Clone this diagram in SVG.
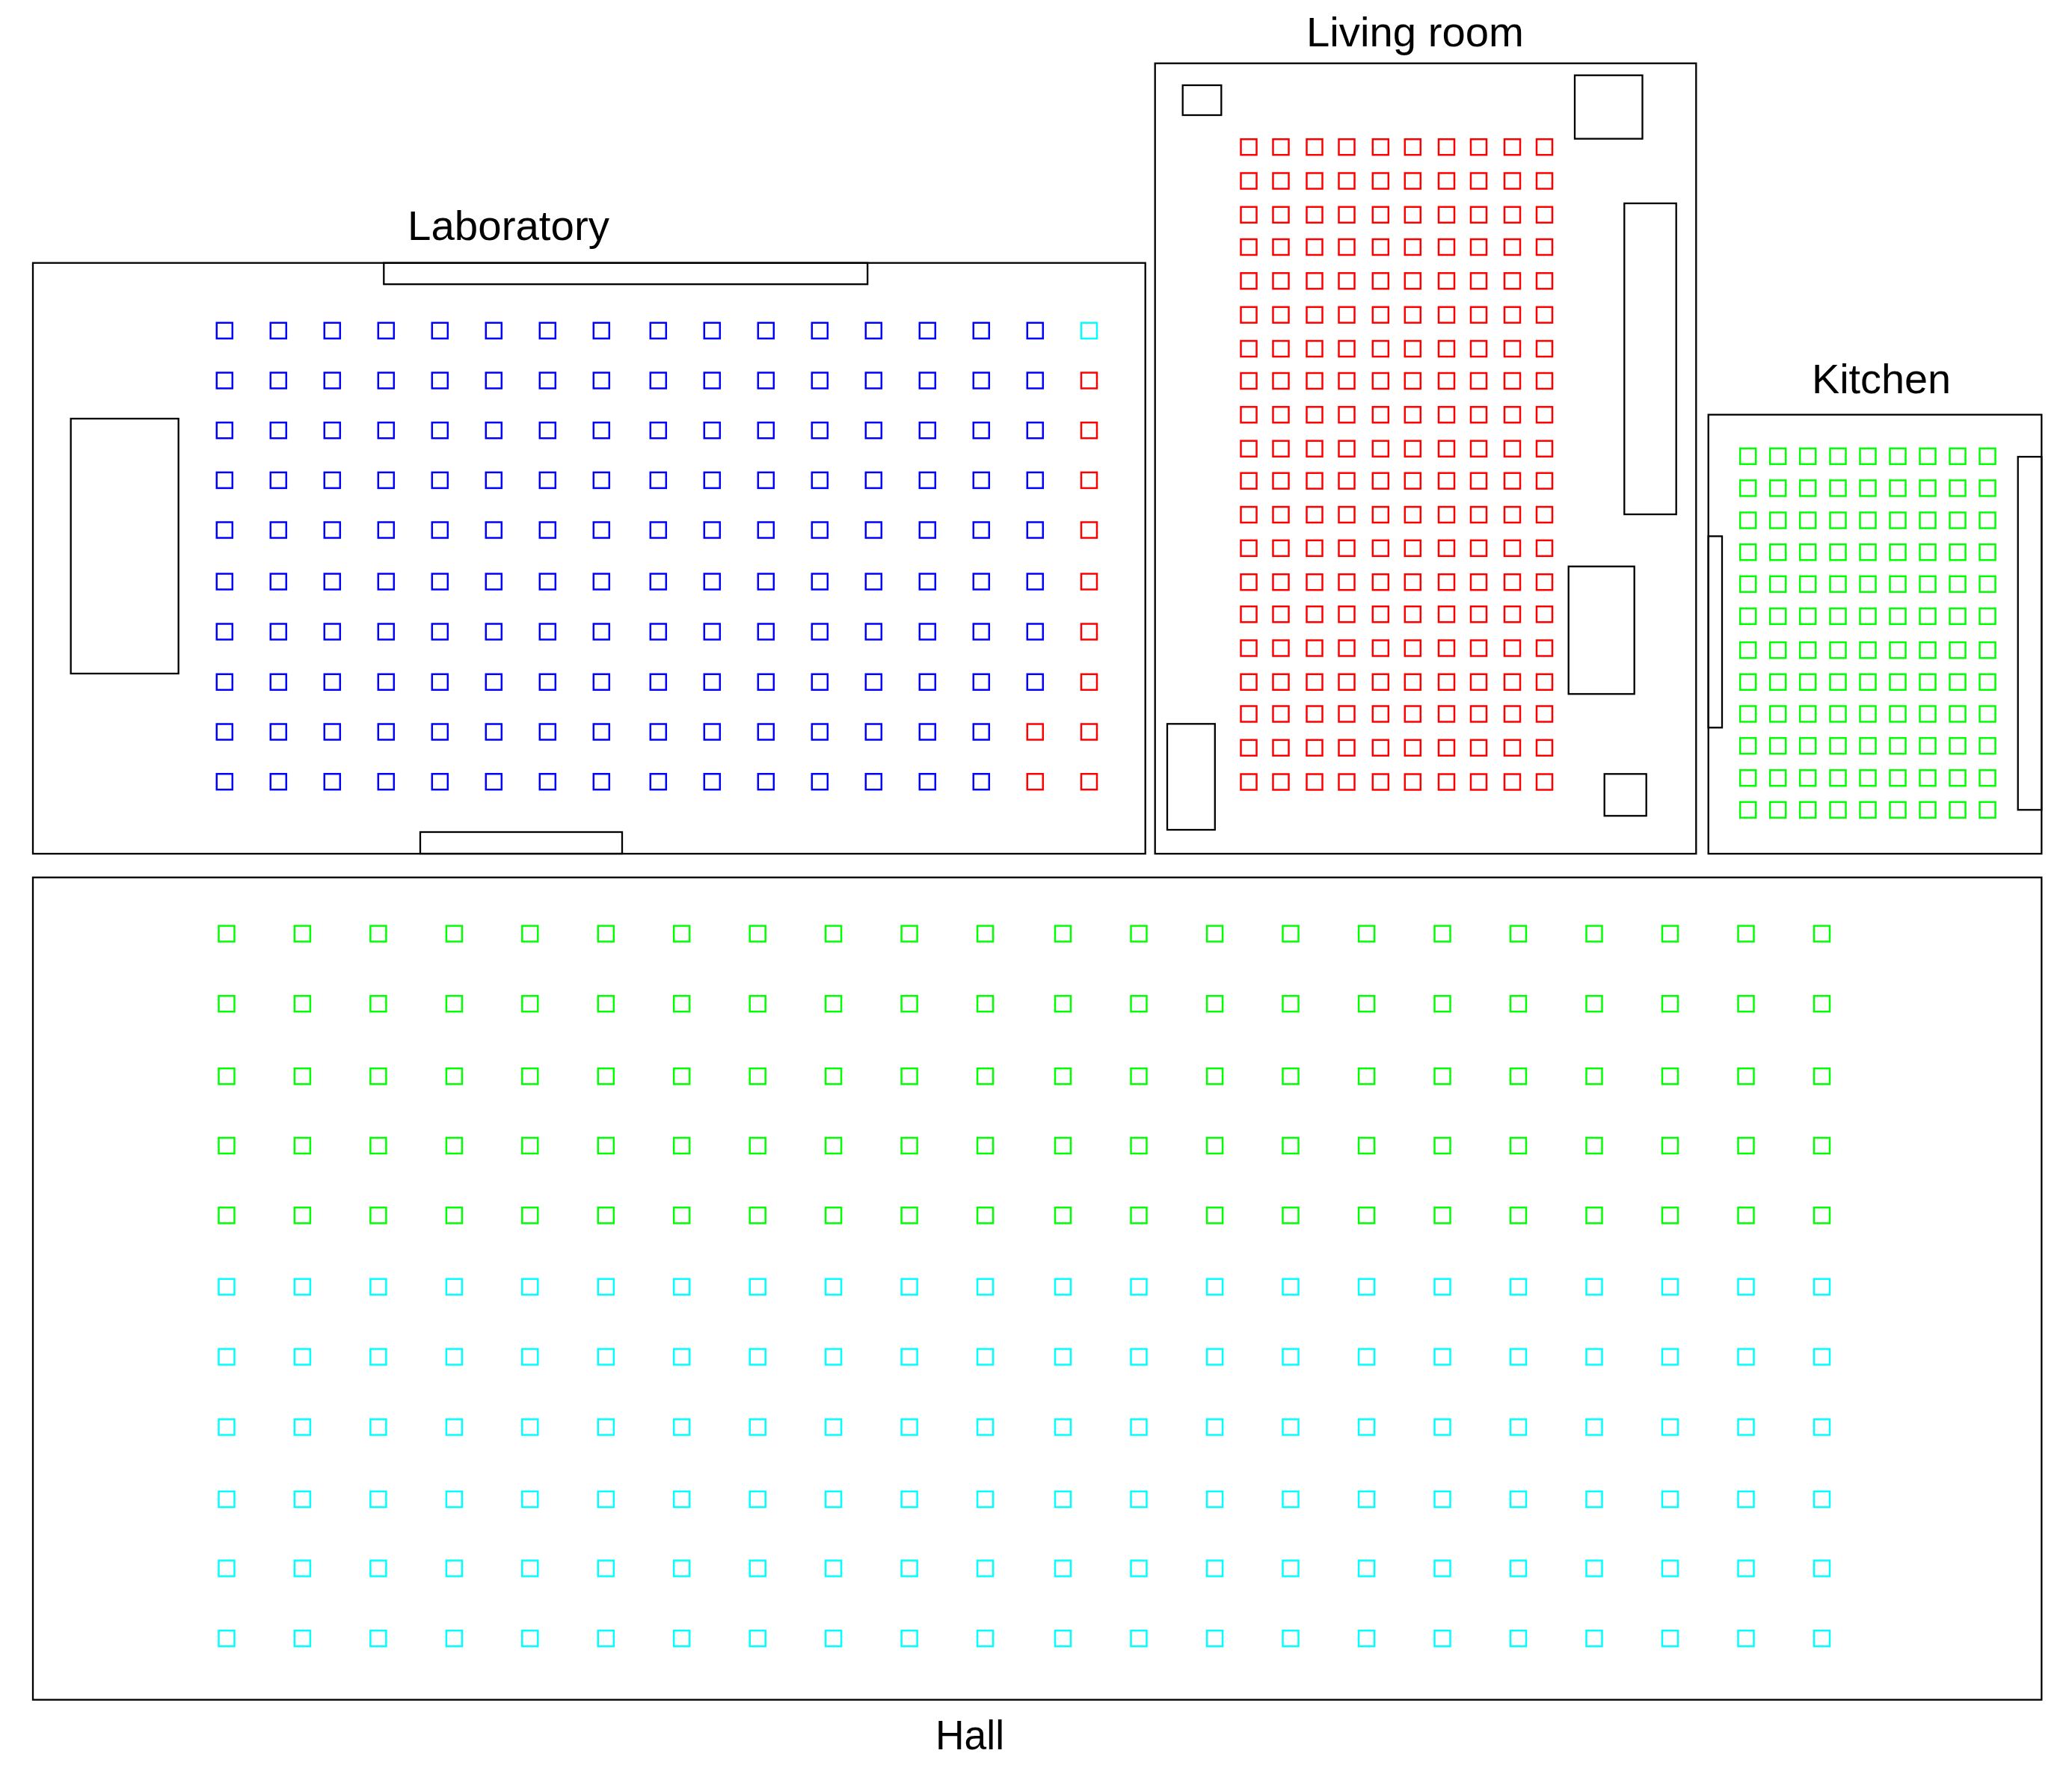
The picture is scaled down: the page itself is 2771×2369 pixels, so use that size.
<svg xmlns="http://www.w3.org/2000/svg" xmlns:xlink="http://www.w3.org/1999/xlink" width="2771" height="2369" viewBox="0 0 2771 2369">
<style>
.w{fill:none;stroke:#000;stroke-width:2.3}
.s{fill:none;stroke-width:2.5}
.b{stroke:#0000ff}.r{stroke:#ff0000}.g{stroke:#00ff00}.c{stroke:#00ffff}
text{font-family:"Liberation Sans",Arial,sans-serif;font-size:56px;fill:#000}
</style>
<defs>
<rect id="s" class="s" x="-10.5" y="-10.5" width="21" height="21"/>
<g id="labA"><use href="#s" x="300.3"/><use href="#s" x="372.3"/><use href="#s" x="444.3"/><use href="#s" x="516.3"/><use href="#s" x="588.3"/><use href="#s" x="660.3"/><use href="#s" x="732.3"/><use href="#s" x="804.3"/><use href="#s" x="880.3"/><use href="#s" x="952.3"/><use href="#s" x="1024.3"/><use href="#s" x="1096.3"/><use href="#s" x="1168.3"/><use href="#s" x="1240.3"/><use href="#s" x="1312.3"/></g>
<g id="livR"><use href="#s" x="1670"/><use href="#s" x="1713"/><use href="#s" x="1758"/><use href="#s" x="1801"/><use href="#s" x="1846.3"/><use href="#s" x="1889.3"/><use href="#s" x="1934.5"/><use href="#s" x="1977.5"/><use href="#s" x="2022.5"/><use href="#s" x="2065.5"/></g>
<g id="kitR"><use href="#s" x="2337.7"/><use href="#s" x="2377.7"/><use href="#s" x="2417.7"/><use href="#s" x="2458"/><use href="#s" x="2498"/><use href="#s" x="2538"/><use href="#s" x="2578"/><use href="#s" x="2618"/><use href="#s" x="2658"/></g>
<g id="halR"><use href="#s" x="303"/><use href="#s" x="404.4"/><use href="#s" x="505.9"/><use href="#s" x="607.4"/><use href="#s" x="708.8"/><use href="#s" x="810.3"/><use href="#s" x="911.7"/><use href="#s" x="1013.2"/><use href="#s" x="1114.6"/><use href="#s" x="1216.1"/><use href="#s" x="1317.6"/><use href="#s" x="1421.5"/><use href="#s" x="1523"/><use href="#s" x="1624.6"/><use href="#s" x="1726"/><use href="#s" x="1827.6"/><use href="#s" x="1929"/><use href="#s" x="2030.5"/><use href="#s" x="2132"/><use href="#s" x="2233.5"/><use href="#s" x="2335"/><use href="#s" x="2436.5"/></g>
</defs>
<rect width="2771" height="2369" fill="#fff"/>
<g id="laboratory">
<rect class="w" x="44" y="351.7" width="1487.7" height="790.3"/>
<rect class="w" x="513.3" y="351.7" width="646.9" height="28.5"/>
<rect class="w" x="562" y="1113" width="270" height="29"/>
<rect class="w" x="94.7" y="560" width="144" height="341"/>
<text x="545" y="320.7" textLength="270" lengthAdjust="spacingAndGlyphs">Laboratory</text>
<g class="b">
<use href="#labA" y="442.3"/><use href="#labA" y="509"/><use href="#labA" y="575.7"/><use href="#labA" y="642.4"/><use href="#labA" y="709"/><use href="#labA" y="778"/><use href="#labA" y="845"/><use href="#labA" y="912.3"/><use href="#labA" y="979"/><use href="#labA" y="1045.7"/>
<use href="#s" x="1384.3" y="442.3"/><use href="#s" x="1384.3" y="509"/><use href="#s" x="1384.3" y="575.7"/><use href="#s" x="1384.3" y="642.4"/><use href="#s" x="1384.3" y="709"/><use href="#s" x="1384.3" y="778"/><use href="#s" x="1384.3" y="845"/><use href="#s" x="1384.3" y="912.3"/>
</g>
<g class="r">
<use href="#s" x="1384.3" y="979"/><use href="#s" x="1384.3" y="1045.7"/>
<use href="#s" x="1456.5" y="509"/><use href="#s" x="1456.5" y="575.7"/><use href="#s" x="1456.5" y="642.4"/><use href="#s" x="1456.5" y="709"/><use href="#s" x="1456.5" y="778"/><use href="#s" x="1456.5" y="845"/><use href="#s" x="1456.5" y="912.3"/><use href="#s" x="1456.5" y="979"/><use href="#s" x="1456.5" y="1045.7"/>
</g>
<use class="c" href="#s" x="1456.5" y="442.3"/>
</g>
<g id="living-room">
<rect class="w" x="1544.7" y="84.7" width="723.6" height="1057.3"/>
<rect class="w" x="1581.7" y="114" width="51.6" height="40"/>
<rect class="w" x="2106" y="100.7" width="90.5" height="84.9"/>
<rect class="w" x="2172.3" y="272" width="69.4" height="416"/>
<rect class="w" x="2097.7" y="757.7" width="88" height="170.6"/>
<rect class="w" x="2145.7" y="1035.3" width="56" height="56"/>
<rect class="w" x="1561" y="968.3" width="63.8" height="141.7"/>
<text x="1747" y="61.7" textLength="291" lengthAdjust="spacingAndGlyphs">Living room</text>
<g class="r">
<use href="#livR" y="196.7"/><use href="#livR" y="242"/><use href="#livR" y="287.3"/><use href="#livR" y="330.5"/><use href="#livR" y="375.8"/><use href="#livR" y="421.2"/><use href="#livR" y="466.5"/><use href="#livR" y="509.5"/><use href="#livR" y="554.8"/><use href="#livR" y="600.2"/><use href="#livR" y="643.2"/><use href="#livR" y="688.5"/><use href="#livR" y="733.3"/><use href="#livR" y="778.7"/><use href="#livR" y="821.7"/><use href="#livR" y="867"/><use href="#livR" y="912.3"/><use href="#livR" y="955"/><use href="#livR" y="1000.3"/><use href="#livR" y="1046"/>
</g>
</g>
<g id="kitchen">
<rect class="w" x="2284.7" y="554.7" width="445.6" height="587.3"/>
<rect class="w" x="2698.7" y="611" width="31.6" height="472.3"/>
<rect class="w" x="2284.7" y="717.3" width="18.3" height="256"/>
<text x="2423" y="525.7" textLength="186" lengthAdjust="spacingAndGlyphs">Kitchen</text>
<g class="g">
<use href="#kitR" y="610.3"/><use href="#kitR" y="653"/><use href="#kitR" y="696"/><use href="#kitR" y="738.7"/><use href="#kitR" y="781.3"/><use href="#kitR" y="824.3"/><use href="#kitR" y="869.7"/><use href="#kitR" y="912.3"/><use href="#kitR" y="955"/><use href="#kitR" y="997.7"/><use href="#kitR" y="1040.7"/><use href="#kitR" y="1083.3"/>
</g>
</g>
<g id="hall">
<rect class="w" x="44" y="1173.7" width="2686.3" height="1100"/>
<text x="1251" y="2340" textLength="92" lengthAdjust="spacingAndGlyphs">Hall</text>
<g class="g">
<use href="#halR" y="1249"/><use href="#halR" y="1342.7"/><use href="#halR" y="1439.7"/><use href="#halR" y="1532.5"/><use href="#halR" y="1625.8"/>
</g>
<g class="c">
<use href="#halR" y="1721.3"/><use href="#halR" y="1815"/><use href="#halR" y="1909"/><use href="#halR" y="2005.5"/><use href="#halR" y="2098"/><use href="#halR" y="2191.7"/>
</g>
</g>
</svg>
